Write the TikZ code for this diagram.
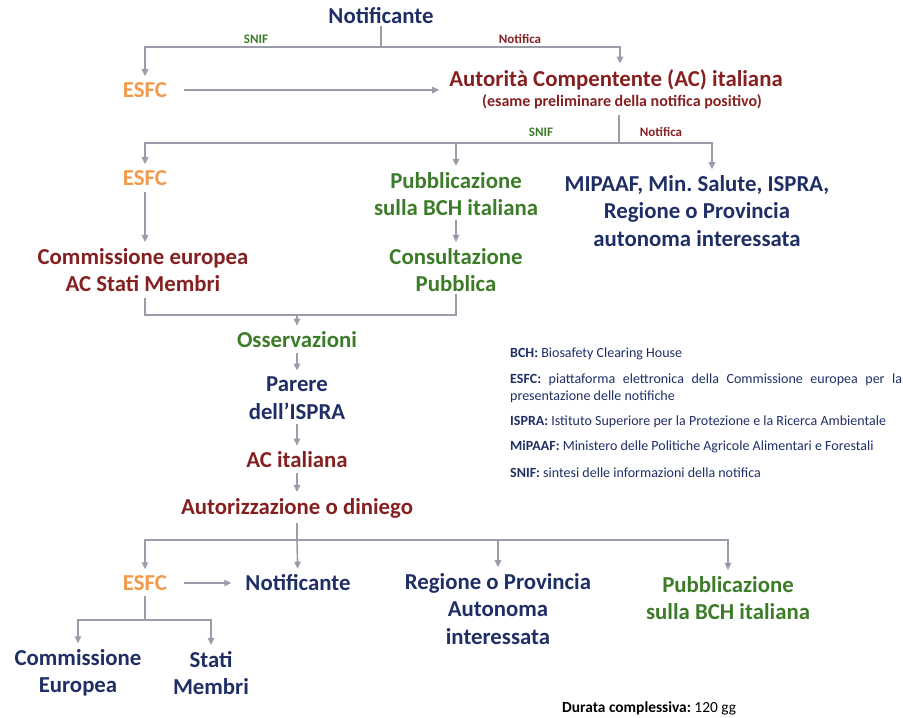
\documentclass[tikz,border=0pt]{standalone}
\usepackage{fontspec}
\setmainfont{Carlito}
\usepackage{tikz}
\usetikzlibrary{positioning}
\usetikzlibrary{arrows.meta}
\frenchspacing

\definecolor{navy}{HTML}{1F2F66}
\definecolor{brick}{HTML}{862020}
\definecolor{leaf}{HTML}{3C7C28}
\definecolor{amber}{HTML}{F29A4A}
\definecolor{wire}{HTML}{9B9DAA}

\begin{document}
\begin{tikzpicture}[x=1pt, y=-1pt,
    wire/.style={draw=wire, line width=1.6pt},
    arr/.style={wire, -{Triangle[length=7pt, width=6.5pt]}},
    big/.style={font=\fontsize{22.8}{27.5}\selectfont\bfseries, align=center, inner sep=2pt},
    tag/.style={font=\fontsize{13}{15}\selectfont\bfseries},
    legend/.style={font=\fontsize{14}{17}\selectfont, text=navy, anchor=west, inner sep=0pt}]

    \useasboundingbox (0,0) rectangle (903,718);

    % first step
    \node [big, text=navy] (notifA) at (381,16) {Notificante};
    \node [big, text=amber] (esfcA) at (145,90) {ESFC};
    \node [big, text=brick] (acA) at (616,80) {Autorità Compentente (AC) italiana};
    \node [text=brick, font=\fontsize{16}{18}\selectfont\bfseries, inner sep=2pt] (acnote) at (622,102) {(esame preliminare della notifica positivo)};
    \node [tag, text=leaf] (snifA) at (256,39) {SNIF};
    \node [tag, text=brick] (notA) at (520,39) {Notifica};
    \coordinate (j1) at (381,47);

    \draw [wire] (notifA) -- (j1);
    \draw [arr, shorten >=4pt] (j1) -| (esfcA);
    \draw [arr, shorten >=4pt] (j1) -| ([xshift=4pt]acA.north);
    \draw [arr, shorten <=15pt, shorten >=8pt] (esfcA.east) -- (esfcA.east -| acA.west);

    % second step
    \coordinate (j2) at (619,143);
    \node [tag, text=leaf] (snifB) at (541,132) {SNIF};
    \node [tag, text=brick] (notB) at (661,132) {Notifica};
    \node [big, text=amber] (esfcB) at (145,178) {ESFC};
    \node [big, text=leaf] (pubB) at (456,194) {Pubblicazione\\sulla BCH italiana};
    \node [big, text=navy] (mipaaf) at (697,211) {MIPAAF, Min. Salute, ISPRA,\\Regione o Provincia\\autonoma interessata};
    \node [big, text=brick] (commB) at (143,270) {Commissione europea\\AC Stati Membri};
    \node [big, text=leaf] (consB) at (456,270) {Consultazione\\Pubblica};

    \draw [wire, shorten <=4pt] (j2 |- acnote.south) -- (j2);
    \draw [arr, shorten >=4pt] (j2) -| (esfcB);
    \draw [arr, shorten >=4pt] (j2) -| (pubB);
    \draw [arr, shorten >=4pt] (j2) -| ([xshift=15pt]mipaaf.north);
    \draw [arr, shorten <=4pt, shorten >=4pt] (esfcB) -- (esfcB |- commB.north);
    \draw [arr, shorten <=2pt, shorten >=4pt] (pubB) -- (consB);

    % evaluation
    \coordinate (j3) at (297,315);
    \node [big, text=leaf] (osserv) at (297,340) {Osservazioni};
    \node [big, text=navy] (parere) at (297,398) {Parere\\dell’ISPRA};
    \node [big, text=brick] (acIt) at (297,460) {AC italiana};
    \node [big, text=brick] (autor) at (297,508) {Autorizzazione o diniego};

    \draw [wire, shorten <=4pt] (commB.south -| esfcB) -- (esfcB |- j3) -- (consB |- j3) -- (consB);
    \draw [arr, shorten >=4pt] (j3) -- (osserv);
    \draw [arr, shorten <=3pt, shorten >=4pt] (osserv) -- (parere);
    \draw [arr, shorten <=3pt, shorten >=4pt] (parere) -- (acIt);
    \draw [arr, shorten <=3pt, shorten >=4pt] (acIt) -- (autor);

    % outcome
    \coordinate (j4) at (297,540);
    \node [big, text=amber] (esfcC) at (145,583) {ESFC};
    \node [big, text=navy] (notifC) at (298,583) {Notificante};
    \node [big, text=navy] (regC) at (498,609) {Regione o Provincia\\Autonoma\\interessata};
    \node [big, text=leaf] (pubC) at (728,598) {Pubblicazione\\sulla BCH italiana};

    \draw [wire, shorten <=3pt] (autor) -- (j4);
    \draw [arr, shorten >=4pt] (j4) -| (esfcC);
    \draw [arr, shorten >=4pt] (j4) -- (notifC);
    \draw [arr, shorten >=4pt] (j4) -| (regC);
    \draw [arr, shorten >=4pt] (j4) -| (pubC);
    \draw [arr, shorten <=15pt, shorten >=12pt] (esfcC) -- (notifC);

    \coordinate (j5) at (145,620);
    \node [big, text=navy] (commC) at (78,673) {Commissione\\Europea};
    \node [big, text=navy] (statiC) at (211,673) {Stati\\Membri};

    \draw [wire, shorten <=3pt] (esfcC) -- (j5);
    \draw [arr, shorten >=4pt] (j5) -| (commC);
    \draw [arr, shorten >=4pt] (j5) -| (statiC);

    % legend
    \node [legend] (legBCH) at (510,354) {\textbf{BCH:} Biosafety Clearing House};
    \node [legend, text width=392pt, align=justify] (legESFC) at (510,388.5) {\textbf{ESFC:} piattaforma elettronica della Commissione europea per la\linebreak presentazione delle notifiche};
    \node [legend] (legISPRA) at (510,422) {\textbf{ISPRA:} Istituto Superiore per la Protezione e la Ricerca Ambientale};
    \node [legend] (legMIPAAF) at (510,447) {\textbf{MiPAAF:} Ministero delle Politiche Agricole Alimentari e Forestali};
    \node [legend] (legSNIF) at (510,473) {\textbf{SNIF:} sintesi delle informazioni della notifica};

    \node [anchor=west, inner sep=0pt, font=\fontsize{15.4}{17}\selectfont] (durata) at (562,708) {\textbf{Durata complessiva:} 120 gg};

\end{tikzpicture}
\end{document}
